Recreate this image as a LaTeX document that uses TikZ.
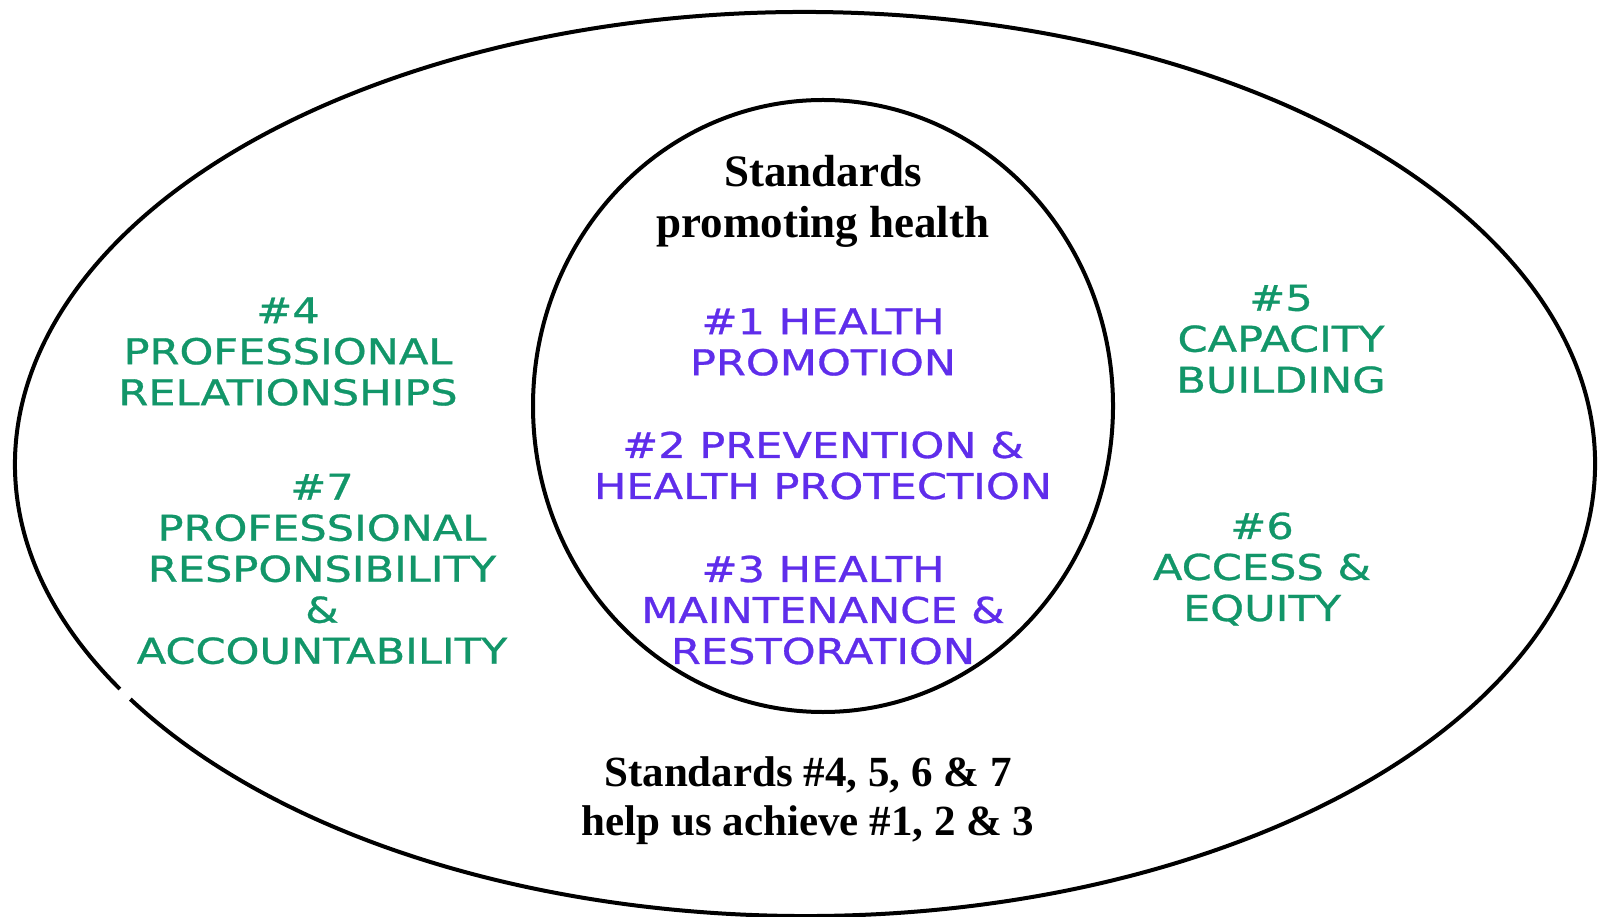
\documentclass[tikz,border=0pt]{standalone}
\usepackage{fontspec}
\setmainfont{Liberation Serif}
\newfontfamily\hand[FakeStretch=1.21, FakeBold=0.8]{DejaVu Sans}
\usetikzlibrary{shapes.geometric}
\definecolor{grn}{RGB}{18,150,105}
\definecolor{vio}{RGB}{95,45,235}
\begin{document}
\begin{tikzpicture}[x=0.5pt,y=0.5pt,
  ring/.style={line width=2pt, draw=black},
  titletext/.style={font=\fontsize{22.5}{25.5}\selectfont\bfseries, align=center, inner sep=0pt, text=black},
  outertext/.style={text=grn, font=\hand\fontsize{17.8}{20.5}\selectfont, align=center, inner sep=0pt},
  innertext/.style={text=vio, font=\hand\fontsize{17.8}{20.5}\selectfont, align=center, inner sep=0pt}]
\useasboundingbox (0,0) rectangle (1598,916);
\fill[white] (0,0) rectangle (1598,916);
\coordinate (oc) at (805,452);
\draw[ring] ([shift={(211.35:395pt and 226pt)}]oc) arc[start angle=211.35, end angle=569.85, x radius=395pt, y radius=226pt];
\node[ring, ellipse, minimum width=290pt, minimum height=306pt, inner sep=0pt] (core) at (823,510) {};
\node[titletext] (title) at (823,714.5) {Standards\\promoting health};
\node[innertext] (s1) at (823,574) {\#1 HEALTH\\PROMOTION};
\node[innertext] (s2) at (823,450.5) {\#2 PREVENTION \&\\HEALTH PROTECTION};
\node[innertext] (s3) at (823,306) {\#3 HEALTH\\MAINTENANCE \&\\RESTORATION};
\node[outertext] (s4) at (288,564.5) {\#4\\PROFESSIONAL\\RELATIONSHIPS};
\node[outertext] (s7) at (322,347) {\#7\\PROFESSIONAL\\RESPONSIBILITY\\\&\\ACCOUNTABILITY};
\node[outertext] (s5) at (1281,577) {\#5\\CAPACITY\\BUILDING};
\node[outertext] (s6) at (1262,347) {\#6\\ACCESS \&\\EQUITY};
\node[titletext, font=\fontsize{21.5}{24.5}\selectfont\bfseries] (note) at (808,115) {Standards \#4, 5, 6 \& 7\\help us achieve \#1, 2 \& 3};
\end{tikzpicture}
\end{document}
